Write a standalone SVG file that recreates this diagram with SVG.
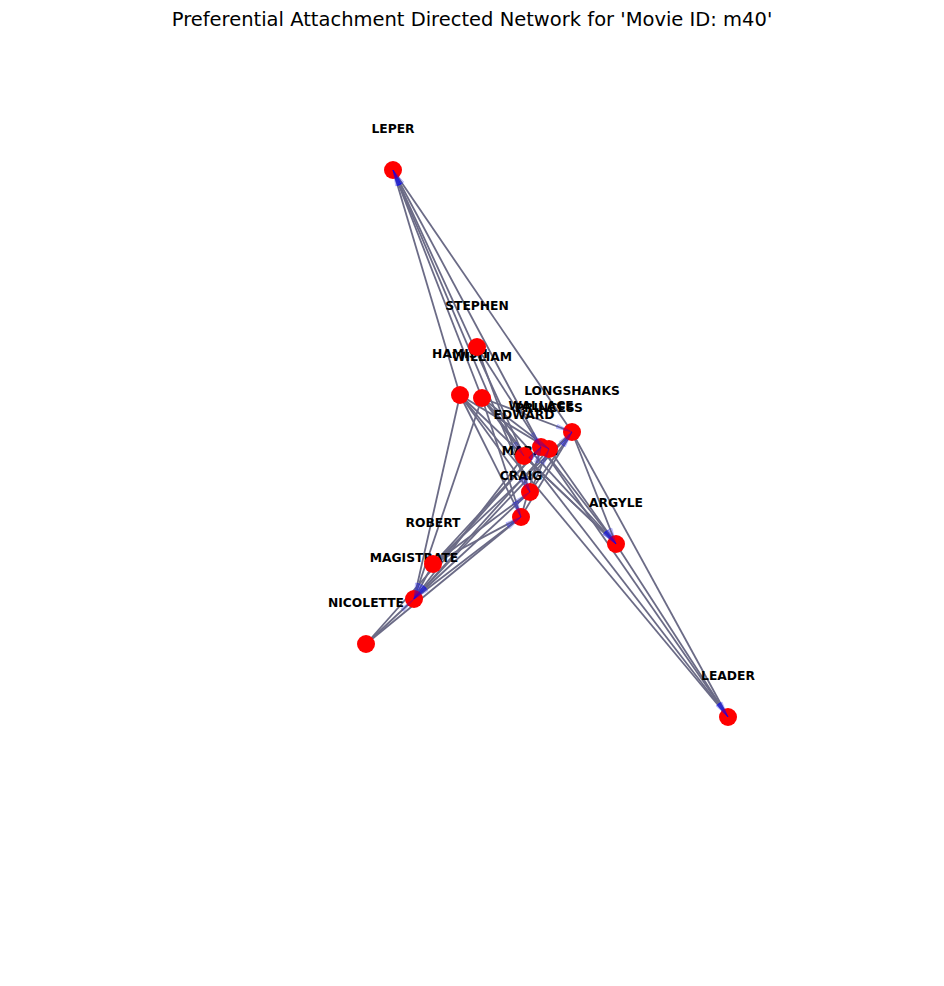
<svg xmlns="http://www.w3.org/2000/svg" width="944" height="986" viewBox="0 0 944 986">
<style>
.e{stroke:#6b6b86;stroke-width:1.8;fill:none}
.a{stroke:none;fill:none;marker-end:url(#ah)}
.n{fill:#ff0000}
.l{font-family:"DejaVu Sans",sans-serif;font-weight:bold;font-size:12.3px;text-anchor:middle;fill:#000}
.t{font-family:"DejaVu Sans",sans-serif;font-size:19.5px;text-anchor:middle;fill:#000}
</style>
<defs>
<marker id="ah" markerUnits="userSpaceOnUse" markerWidth="18" markerHeight="6" refX="16" refY="3" orient="auto" overflow="visible">
<path d="M0,1 L16,3 L0,5 Z" fill="#0000ff" fill-opacity="0.12" stroke="#0000ff" stroke-width="0.5" stroke-opacity="0.4"/>
</marker>
</defs>
<rect width="944" height="986" fill="#fff"/>
<text class="t" x="472" y="25.5">Preferential Attachment Directed Network for 'Movie ID: m40'</text>
<g id="connectors">
<line class="e" x1="460" y1="395" x2="393" y2="170"/>
<line class="e" x1="482" y1="398" x2="393" y2="170"/>
<line class="e" x1="530" y1="492" x2="393" y2="170"/>
<line class="e" x1="524" y1="456" x2="393" y2="170"/>
<line class="e" x1="541" y1="447" x2="393" y2="170"/>
<line class="e" x1="572" y1="432" x2="393" y2="170"/>
<line class="e" x1="477" y1="347" x2="530" y2="492"/>
<line class="e" x1="477" y1="347" x2="541" y2="447"/>
<line class="e" x1="460" y1="395" x2="414" y2="599"/>
<line class="e" x1="482" y1="398" x2="414" y2="599"/>
<line class="e" x1="460" y1="395" x2="521" y2="517"/>
<line class="e" x1="460" y1="395" x2="530" y2="492"/>
<line class="e" x1="460" y1="395" x2="549" y2="449"/>
<line class="e" x1="460" y1="395" x2="616" y2="544"/>
<line class="e" x1="460" y1="395" x2="728" y2="717"/>
<line class="e" x1="482" y1="398" x2="521" y2="517"/>
<line class="e" x1="482" y1="398" x2="524" y2="456"/>
<line class="e" x1="482" y1="398" x2="572" y2="432"/>
<line class="e" x1="482" y1="398" x2="616" y2="544"/>
<line class="e" x1="482" y1="398" x2="728" y2="717"/>
<line class="e" x1="482" y1="398" x2="549" y2="449"/>
<line class="e" x1="433" y1="564" x2="521" y2="517"/>
<line class="e" x1="433" y1="564" x2="530" y2="492"/>
<line class="e" x1="433" y1="564" x2="541" y2="447"/>
<line class="e" x1="433" y1="564" x2="572" y2="432"/>
<line class="e" x1="521" y1="517" x2="414" y2="599"/>
<line class="e" x1="530" y1="492" x2="414" y2="599"/>
<line class="e" x1="524" y1="456" x2="414" y2="599"/>
<line class="e" x1="549" y1="449" x2="414" y2="599"/>
<line class="e" x1="572" y1="432" x2="414" y2="599"/>
<line class="e" x1="433" y1="564" x2="414" y2="599"/>
<line class="e" x1="366" y1="644" x2="414" y2="599"/>
<line class="e" x1="366" y1="644" x2="521" y2="517"/>
<line class="e" x1="366" y1="644" x2="541" y2="447"/>
<line class="e" x1="521" y1="517" x2="541" y2="447"/>
<line class="e" x1="521" y1="517" x2="572" y2="432"/>
<line class="e" x1="530" y1="492" x2="572" y2="432"/>
<line class="e" x1="530" y1="492" x2="549" y2="449"/>
<line class="e" x1="524" y1="456" x2="616" y2="544"/>
<line class="e" x1="541" y1="447" x2="616" y2="544"/>
<line class="e" x1="541" y1="447" x2="728" y2="717"/>
<line class="e" x1="549" y1="449" x2="616" y2="544"/>
<line class="e" x1="572" y1="432" x2="728" y2="717"/>
<line class="e" x1="572" y1="432" x2="616" y2="544"/>
<line class="e" x1="616" y1="544" x2="728" y2="717"/>
</g>
<g id="labels">
<text class="l" x="393" y="132.5">LEPER</text>
<text class="l" x="477" y="309.5">STEPHEN</text>
<text class="l" x="460" y="357.5">HAMISH</text>
<text class="l" x="482" y="360.5">WILLIAM</text>
<text class="l" x="572" y="394.5">LONGSHANKS</text>
<text class="l" x="541" y="409.5">WALLACE</text>
<text class="l" x="549" y="411.5">PRINCESS</text>
<text class="l" x="524" y="418.5">EDWARD</text>
<text class="l" x="530" y="454.5">MARION</text>
<text class="l" x="521" y="479.5">CRAIG</text>
<text class="l" x="433" y="526.5">ROBERT</text>
<text class="l" x="414" y="561.5">MAGISTRATE</text>
<text class="l" x="366" y="606.5">NICOLETTE</text>
<text class="l" x="616" y="506.5">ARGYLE</text>
<text class="l" x="728" y="679.5">LEADER</text>
</g>
<g id="nodes">
<g id="n-leper"><circle class="n" cx="393" cy="170" r="9"/></g>
<g id="n-stephen"><circle class="n" cx="477" cy="347" r="9"/></g>
<g id="n-hamish"><circle class="n" cx="460" cy="395" r="9"/></g>
<g id="n-william"><circle class="n" cx="482" cy="398" r="9"/></g>
<g id="n-longshanks"><circle class="n" cx="572" cy="432" r="9"/></g>
<g id="n-wallace"><circle class="n" cx="541" cy="447" r="9"/></g>
<g id="n-princess"><circle class="n" cx="549" cy="449" r="9"/></g>
<g id="n-edward"><circle class="n" cx="524" cy="456" r="9"/></g>
<g id="n-marion"><circle class="n" cx="530" cy="492" r="9"/></g>
<g id="n-craig"><circle class="n" cx="521" cy="517" r="9"/></g>
<g id="n-robert"><circle class="n" cx="433" cy="564" r="9"/></g>
<g id="n-magistrate"><circle class="n" cx="414" cy="599" r="9"/></g>
<g id="n-nicolette"><circle class="n" cx="366" cy="644" r="9"/></g>
<g id="n-argyle"><circle class="n" cx="616" cy="544" r="9"/></g>
<g id="n-leader"><circle class="n" cx="728" cy="717" r="9"/></g>
</g>
<g id="arrowheads">
<line class="a" x1="460" y1="395" x2="393" y2="170"/>
<line class="a" x1="482" y1="398" x2="393" y2="170"/>
<line class="a" x1="530" y1="492" x2="393" y2="170"/>
<line class="a" x1="524" y1="456" x2="393" y2="170"/>
<line class="a" x1="541" y1="447" x2="393" y2="170"/>
<line class="a" x1="572" y1="432" x2="393" y2="170"/>
<line class="a" x1="477" y1="347" x2="530" y2="492"/>
<line class="a" x1="477" y1="347" x2="541" y2="447"/>
<line class="a" x1="460" y1="395" x2="414" y2="599"/>
<line class="a" x1="482" y1="398" x2="414" y2="599"/>
<line class="a" x1="460" y1="395" x2="521" y2="517"/>
<line class="a" x1="460" y1="395" x2="530" y2="492"/>
<line class="a" x1="460" y1="395" x2="549" y2="449"/>
<line class="a" x1="460" y1="395" x2="616" y2="544"/>
<line class="a" x1="460" y1="395" x2="728" y2="717"/>
<line class="a" x1="482" y1="398" x2="521" y2="517"/>
<line class="a" x1="482" y1="398" x2="524" y2="456"/>
<line class="a" x1="482" y1="398" x2="572" y2="432"/>
<line class="a" x1="482" y1="398" x2="616" y2="544"/>
<line class="a" x1="482" y1="398" x2="728" y2="717"/>
<line class="a" x1="482" y1="398" x2="549" y2="449"/>
<line class="a" x1="433" y1="564" x2="521" y2="517"/>
<line class="a" x1="433" y1="564" x2="530" y2="492"/>
<line class="a" x1="433" y1="564" x2="541" y2="447"/>
<line class="a" x1="433" y1="564" x2="572" y2="432"/>
<line class="a" x1="521" y1="517" x2="414" y2="599"/>
<line class="a" x1="530" y1="492" x2="414" y2="599"/>
<line class="a" x1="524" y1="456" x2="414" y2="599"/>
<line class="a" x1="549" y1="449" x2="414" y2="599"/>
<line class="a" x1="572" y1="432" x2="414" y2="599"/>
<line class="a" x1="433" y1="564" x2="414" y2="599"/>
<line class="a" x1="366" y1="644" x2="414" y2="599"/>
<line class="a" x1="366" y1="644" x2="521" y2="517"/>
<line class="a" x1="366" y1="644" x2="541" y2="447"/>
<line class="a" x1="521" y1="517" x2="541" y2="447"/>
<line class="a" x1="521" y1="517" x2="572" y2="432"/>
<line class="a" x1="530" y1="492" x2="572" y2="432"/>
<line class="a" x1="530" y1="492" x2="549" y2="449"/>
<line class="a" x1="524" y1="456" x2="616" y2="544"/>
<line class="a" x1="541" y1="447" x2="616" y2="544"/>
<line class="a" x1="541" y1="447" x2="728" y2="717"/>
<line class="a" x1="549" y1="449" x2="616" y2="544"/>
<line class="a" x1="572" y1="432" x2="728" y2="717"/>
<line class="a" x1="572" y1="432" x2="616" y2="544"/>
<line class="a" x1="616" y1="544" x2="728" y2="717"/>
</g>
</svg>
